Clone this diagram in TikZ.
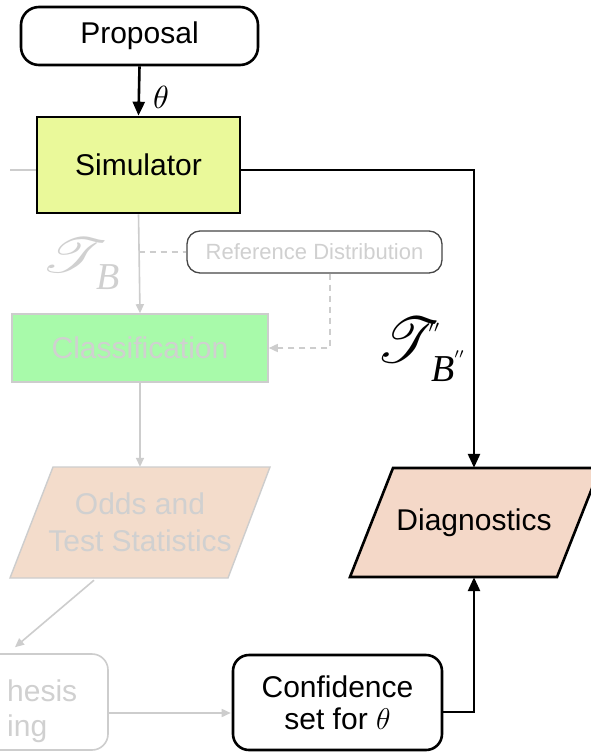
\RequirePackage{fix-cm}
\documentclass[tikz,border=0pt]{standalone}
\usepackage{fontspec}
\setmainfont{Liberation Sans}
\newfontfamily\timesit{Liberation Serif}
\usepackage{mathrsfs}
\usetikzlibrary{arrows.meta,calc}
\definecolor{simfill}{RGB}{234,249,154}
\definecolor{clsfill}{RGB}{168,250,170}
\definecolor{oddsfill}{RGB}{243,220,203}
\definecolor{diagfill}{RGB}{244,216,200}
\definecolor{lightline}{RGB}{205,205,205}
\definecolor{lighttext}{RGB}{208,208,208}
\definecolor{darkedge}{RGB}{70,70,70}
\tikzset{
  big/.style={font=\fontsize{30}{34}\selectfont},
  blackbox/.style={draw=black, line width=2.6pt, big, inner sep=0pt},
  blackline/.style={draw=black, line width=2.6pt},
  blacktip/.style={-{Triangle[width=12pt,length=14pt]}},
  grayline/.style={draw=lightline, line width=1.6pt},
  graytip/.style={-{Triangle[width=8pt,length=9pt]}},
  dashline/.style={draw=lightline, line width=1.6pt, dash pattern=on 6pt off 5pt},
  ghostbox/.style={draw=lightline, line width=1.6pt, big, text=lighttext, inner sep=0pt},
  glyph/.style={inner sep=0pt, outer sep=0pt},
  subB/.style={glyph, font=\timesit\itshape\fontsize{38}{40}\selectfont}
}
\begin{document}
\begin{tikzpicture}[x=1pt,y=-1pt]
\useasboundingbox (0,0) rectangle (591,752);
\clip (0,0) rectangle (591,752);
\fill[white] (0,0) rectangle (591,752);

% black nodes
\node[blackbox, rounded corners=18pt, minimum width=237pt, minimum height=58pt] (prop) at (139.5,36) {Proposal};
\node[blackbox, fill=simfill, minimum width=203pt, minimum height=96pt] (sim) at (138.5,165) {Simulator};
\node[blackbox, rounded corners=16pt, minimum width=209pt, minimum height=95pt, align=center,
      font=\fontsize{30}{32}\selectfont] (conf) at (337.5,702.5) {Confidence\\set for $\theta$};

% greyed nodes
\node[ghostbox, fill=clsfill, minimum width=256pt, minimum height=68pt] (cls) at (140,348) {Classification};
\node[draw=darkedge, line width=1.3pt, rounded corners=13pt, minimum width=255pt, minimum height=42pt,
      inner sep=0pt, text=lighttext, font=\fontsize{22}{26}\selectfont] (ref) at (314.5,252) {Reference Distribution};
\node[ghostbox, rounded corners=16pt, minimum width=203pt, minimum height=96pt] (hyp) at (6.5,702) {};
\node[anchor=west, align=left, inner sep=0pt, text=lighttext, font=\fontsize{30}{35}\selectfont] (hyptext) at (7,711) {hesis\\ing};

% parallelograms
\fill[oddsfill] (53,467) -- (270,467) -- (228,578) -- (10,578) -- cycle;
\draw[draw=lightline, line width=1.4pt] (53,467) -- (270,467) -- (228,578) -- (10,578) -- cycle;
\node[inner sep=0pt, minimum width=217pt, minimum height=111pt, align=center, text=lighttext,
      font=\fontsize{30}{37}\selectfont] (odds) at (140,522.5) {Odds and\\Test Statistics};

\fill[diagfill] (393,468) -- (600,468) -- (557,577) -- (350,577) -- cycle;
\draw[line width=2.6pt, line join=miter] (393,468) -- (600,468) -- (557,577) -- (350,577) -- cycle;
\node[inner sep=0pt, minimum width=207pt, minimum height=109pt, big] (diag) at (474,522.5) {Diagnostics};

% labels
\node[glyph] (thetalbl) at (161,97) {\scalebox{3.2}{$\theta$}};

\node[glyph, text=lighttext] (tbT) at (74.5,255) {\scalebox{6.4}[4.9]{$\mathscr{T}$}};
\node[subB, text=lighttext] (tbB) at (108,277) {B};

\node[glyph] (tbbT) at (408.5,340.5) {\scalebox{6.1}[6.4]{$\mathscr{T}$}};
\node[glyph] (tbbP) at (434,328) {\scalebox{2.4}{$\scriptstyle\prime\prime$}};
\node[subB] (tbbB) at (443,369) {B};
\node[glyph] (tbbBP) at (459,355) {\scalebox{2}{$\scriptstyle\prime\prime$}};

% black connectors
\draw[blackline, blacktip] (prop.south) -- (sim.north);
\draw[blackline, blacktip] ($(sim.east)+(0,5)$) -| (diag.north);
\draw[blackline, blacktip] ($(conf.east)+(0,9.5)$) -| (diag.south);

% grey connectors
\coordinate (leftin) at (10,170);
\draw[grayline] (leftin) -- ($(sim.west)+(0,5)$);
\draw[grayline, graytip] (sim.south) -- (cls.north);
\draw[grayline, graytip] (cls.south) -- (odds.north);
\draw[grayline, graytip] ($(odds.south)+(-46,2)$) -- ($(hyp.north)+(8.5,-6)$);
\draw[grayline, graytip] ($(hyp.east)+(0,11)$) -- ($(conf.west)+(-1,10.5)$);

% dashed connectors
\coordinate (tap) at (138.5,252);
\draw[dashline] (tap) -- (ref.west);
\draw[dashline, graytip] ($(ref.south)+(15.5,0)$) |- (cls.east);
\end{tikzpicture}
\end{document}
